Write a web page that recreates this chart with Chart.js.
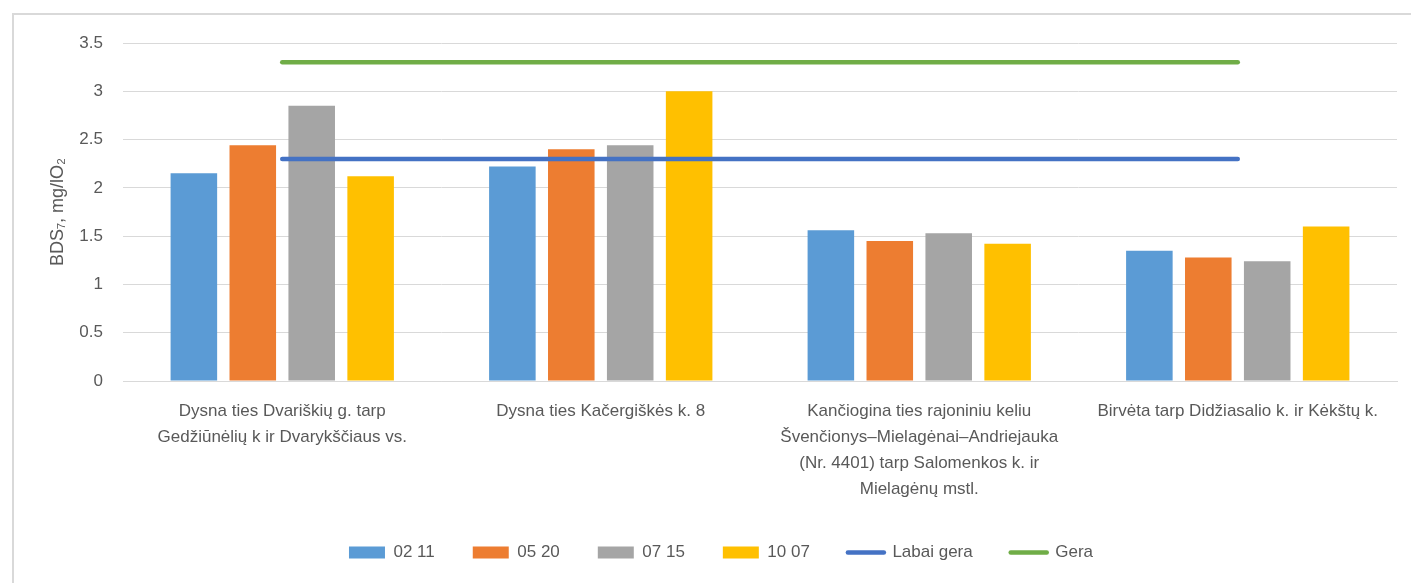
<!DOCTYPE html>
<html>
<head>
<meta charset="utf-8">
<script src="https://cdn.jsdelivr.net/npm/chart.js@4.4.0/dist/chart.umd.min.js"></script>
<style>
  html, body { margin: 0; padding: 0; background: #fff; }
  #wrap { position: relative; width: 1411px; height: 583px; }
  #frame { position: absolute; left: 12px; top: 13px; right: 0; bottom: 0;
           border-left: 2px solid #d9d9d9; border-top: 2px solid #d9d9d9; }
  canvas { position: absolute; left: 0; top: 0; }
</style>
</head>
<body>
<div id="wrap">
  <div id="frame"></div>
  <canvas id="chart" width="1411" height="583"></canvas>
</div>
<script>
// categories (multi-line labels)
const categories = [
  ["Dysna ties Dvariškių g. tarp", "Gedžiūnėlių k ir Dvarykščiaus vs."],
  ["Dysna ties Kačergiškės k. 8"],
  ["Kančiogina ties rajoniniu keliu", "Švenčionys–Mielagėnai–Andriejauka", "(Nr. 4401) tarp Salomenkos k. ir", "Mielagėnų mstl."],
  ["Birvėta tarp Didžiasalio k. ir Kėkštų k."]
];

// measurement dates
const s0211 = [2.15, 2.22, 1.56, 1.35];
const s0520 = [2.44, 2.40, 1.45, 1.28];
const s0715 = [2.85, 2.44, 1.53, 1.24];
const s1007 = [2.12, 3.00, 1.42, 1.60];

// class limits
const labaiGera = [2.3, 2.3, 2.3, 2.3];
const gera = [3.3, 3.3, 3.3, 3.3];

const yTicks = [0, 0.5, 1, 1.5, 2, 2.5, 3, 3.5];

const font = "'Liberation Sans Narrow', 'Arial Narrow', 'Liberation Sans', sans-serif";
const grey = "#595959";

function bar(label, data, color) {
  return {
    type: "bar", label: label, data: data, backgroundColor: color,
    borderWidth: 0, categoryPercentage: 0.74, barPercentage: 0.79, order: 2
  };
}
function limit(label, data, color) {
  return {
    type: "line", label: label, data: data, borderColor: color, backgroundColor: color,
    borderWidth: 4.5, borderCapStyle: "round", pointRadius: 0, pointHoverRadius: 0,
    fill: false, order: 1
  };
}

new Chart(document.getElementById("chart").getContext("2d"), {
  data: {
    labels: categories,
    datasets: [
      bar("02 11", s0211, "#5b9bd5"),
      bar("05 20", s0520, "#ed7d31"),
      bar("07 15", s0715, "#a5a5a5"),
      bar("10 07", s1007, "#ffc000"),
      limit("Labai gera", labaiGera, "#4472c4"),
      limit("Gera", gera, "#70ad47")
    ]
  },
  options: {
    responsive: false,
    animation: false,
    layout: { padding: { top: 43, right: 14, left: 45, bottom: 12 } },
    plugins: {
      tooltip: { enabled: false },
      legend: {
        position: "bottom",
        labels: {
          color: grey,
          font: { family: font, size: 17 },
          usePointStyle: true,
          pointStyleWidth: 36,
          boxHeight: 12,
          padding: 38,
          sort: function(a, b) { return a.datasetIndex - b.datasetIndex; },
          generateLabels: function(chart) {
            const items = Chart.defaults.plugins.legend.labels.generateLabels(chart);
            items.forEach(function(it) {
              const ds = chart.data.datasets[it.datasetIndex];
              it.pointStyle = ds.type === "line" ? "line" : "rect";
              if (ds.type === "line") { it.lineWidth = 4.5; it.lineCap = "round"; }
            });
            return items;
          }
        }
      }
    },
    scales: {
      x: {
        offset: true,
        grid: { display: false, drawTicks: false },
        border: { color: "#d9d9d9", width: 1 },
        ticks: {
          color: grey, font: { family: font, size: 17, lineHeight: 1.53 }, padding: 17,
          maxRotation: 0, autoSkip: false
        },
        afterFit: function(s) { s.height = 125; }
      },
      y: {
        min: 0, max: 3.5,
        afterBuildTicks: function(s) { s.ticks = yTicks.map(function(v) { return { value: v }; }); },
        grid: { color: "#d9d9d9", lineWidth: 1, drawTicks: false },
        border: { display: false },
        ticks: {
          color: grey, font: { family: font, size: 17 }, padding: 20,
          callback: function(v) { return String(v); }
        },
        title: {
          display: true, text: "BDS₇, mg/lO₂", color: grey,
          font: { family: font, size: 18 }, padding: { top: 2, bottom: 4 }
        },
        afterFit: function(s) { s.width = 78; }
      }
    }
  }
});
</script>
</body>
</html>
